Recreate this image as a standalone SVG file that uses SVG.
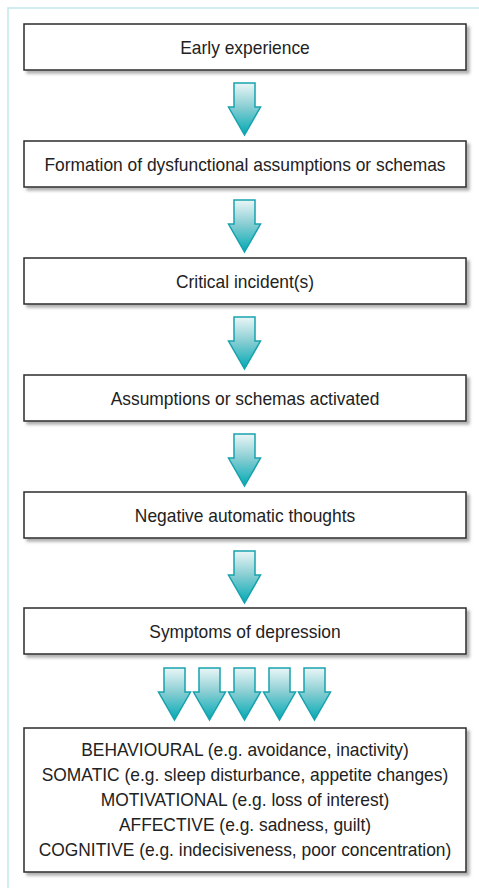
<svg xmlns="http://www.w3.org/2000/svg" xmlns:xlink="http://www.w3.org/1999/xlink" width="479" height="888" viewBox="0 0 479 888">
  <style>
    .box { fill: #ffffff; stroke: #2b2b2b; stroke-width: 1.5; filter: url(#shadow); }
    .label { font-family: "Liberation Sans", Arial, sans-serif; font-size: 18.6px; fill: #222222; text-anchor: middle; }
    .arrow { fill: url(#tealFade); stroke: #17a2ad; stroke-width: 1.5; stroke-linejoin: miter; }
    .frame { stroke: #c3e7eb; stroke-width: 1.5; fill: none; }
  </style>
  <defs>
    <filter id="shadow" x="-5%" y="-20%" width="115%" height="150%">
      <feDropShadow dx="3" dy="3" stdDeviation="1.4" flood-color="#7a7a7a" flood-opacity="0.6"/>
    </filter>
    <linearGradient id="tealFade" x1="0" y1="0" x2="0" y2="1">
      <stop offset="0" stop-color="#eaf6f7"/>
      <stop offset="0.45" stop-color="#8ccfd4"/>
      <stop offset="1" stop-color="#00a9b4"/>
    </linearGradient>
    <!-- block arrow pointing down, origin at top centre of shaft -->
    <path id="downArrow" class="arrow" d="M-10.5,0 H10.5 V24 H16 L0,52 L-16,24 H-10.5 Z"/>
  </defs>

  <rect width="479" height="888" fill="#ffffff"/>
  <!-- panel frame: top and left rules -->
  <path class="frame" d="M8,888 V8 H479"/>

  <g id="connectors">
    <use xlink:href="#downArrow" transform="translate(244.5,83)"/>
    <use xlink:href="#downArrow" transform="translate(244.5,200)"/>
    <use xlink:href="#downArrow" transform="translate(244.5,317)"/>
    <use xlink:href="#downArrow" transform="translate(244.5,434)"/>
    <use xlink:href="#downArrow" transform="translate(244.5,551)"/>
    <use xlink:href="#downArrow" transform="translate(174.5,668)"/>
    <use xlink:href="#downArrow" transform="translate(209.5,668)"/>
    <use xlink:href="#downArrow" transform="translate(244.5,668)"/>
    <use xlink:href="#downArrow" transform="translate(279.5,668)"/>
    <use xlink:href="#downArrow" transform="translate(314.5,668)"/>
  </g>

  <!-- labels use a slightly condensed Arial-width face: scaled 0.935 horizontally -->
  <g id="early-experience">
    <rect class="box" x="24" y="24" width="442" height="46"/>
    <text class="label" transform="translate(245,53.8) scale(0.935,1)">Early experience</text>
  </g>
  <g id="dysfunctional-assumptions">
    <rect class="box" x="24" y="141" width="442" height="46"/>
    <text class="label" transform="translate(245,170.8) scale(0.935,1)">Formation of dysfunctional assumptions or schemas</text>
  </g>
  <g id="critical-incidents">
    <rect class="box" x="24" y="258" width="442" height="46"/>
    <text class="label" transform="translate(245,287.8) scale(0.935,1)">Critical incident(s)</text>
  </g>
  <g id="schemas-activated">
    <rect class="box" x="24" y="375" width="442" height="46"/>
    <text class="label" transform="translate(245,404.8) scale(0.935,1)">Assumptions or schemas activated</text>
  </g>
  <g id="negative-thoughts">
    <rect class="box" x="24" y="492" width="442" height="46"/>
    <text class="label" transform="translate(245,521.8) scale(0.935,1)">Negative automatic thoughts</text>
  </g>
  <g id="symptoms">
    <rect class="box" x="24" y="608" width="442" height="46"/>
    <text class="label" transform="translate(245,637.8) scale(0.935,1)">Symptoms of depression</text>
  </g>
  <g id="symptom-types">
    <rect class="box" x="24" y="728" width="442" height="144"/>
    <text class="label" transform="translate(245,756) scale(0.935,1)">BEHAVIOURAL (e.g. avoidance, inactivity)</text>
    <text class="label" transform="translate(245,781) scale(0.935,1)">SOMATIC (e.g. sleep disturbance, appetite changes)</text>
    <text class="label" transform="translate(245,806) scale(0.935,1)">MOTIVATIONAL (e.g. loss of interest)</text>
    <text class="label" transform="translate(245,831) scale(0.935,1)">AFFECTIVE (e.g. sadness, guilt)</text>
    <text class="label" transform="translate(245,856) scale(0.935,1)">COGNITIVE (e.g. indecisiveness, poor concentration)</text>
  </g>
</svg>
